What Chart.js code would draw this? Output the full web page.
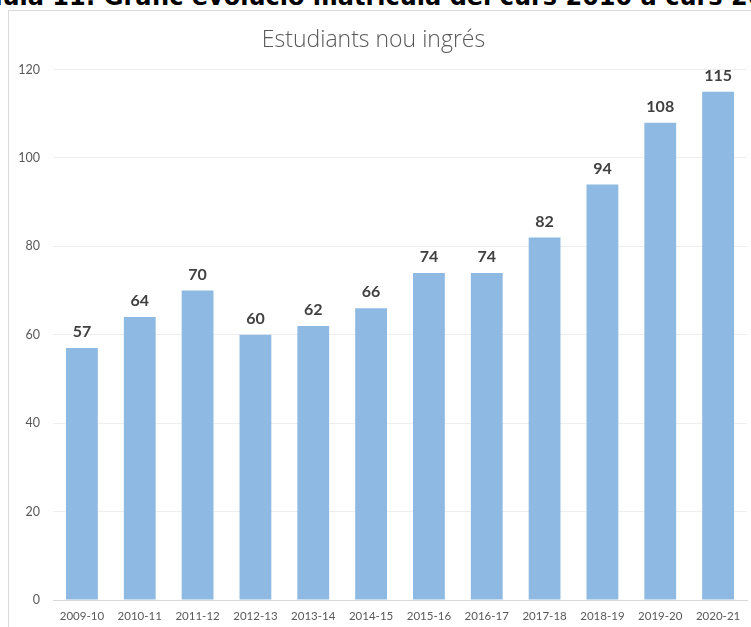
<!DOCTYPE html>
<html>
<head>
<meta charset="utf-8">
<script src="https://cdn.jsdelivr.net/npm/chart.js@4/dist/chart.umd.min.js"></script>
<style>
  html, body { margin: 0; padding: 0; background: #fff; overflow: hidden; }
  #wrap { position: relative; width: 751px; height: 627px; overflow: hidden; }
  #heading { position: absolute; left: -27px; top: -15px; white-space: nowrap;
    font-family: "DejaVu Sans", sans-serif; font-weight: bold; font-size: 24px; line-height: 24px; color: #000; }
  #frame { position: absolute; left: 8px; top: 10px; width: 760px; height: 640px;
    border-left: 1px solid #d9d9d9; border-top: 1px solid #d9d9d9; box-sizing: border-box; }
  #c { position: absolute; left: 0; top: 0; }
</style>
</head>
<body>
<div id="wrap">
  <div id="heading">Taula 11: Gràfic evolució matrícula del curs 2010 a curs 2021</div>
  <div id="frame"></div>
  <canvas id="c" width="751" height="627"></canvas>
</div>
<script>
const categories = ["2009-10","2010-11","2011-12","2012-13","2013-14","2014-15","2015-16","2016-17","2017-18","2018-19","2019-20","2020-21"];
const newStudents = [57, 64, 70, 60, 62, 66, 74, 74, 82, 94, 108, 115];
const yTicks = [0, 20, 40, 60, 80, 100, 120];
const chartTitle = "Estudiants nou ingrés";

const tickFont = 'Lato, "Open Sans", sans-serif';

const valueLabels = {
  id: 'valueLabels',
  afterDatasetsDraw(chart) {
    const ctx = chart.ctx;
    const meta = chart.getDatasetMeta(0);
    ctx.save();
    ctx.font = 'bold 16px Lato, "Open Sans", sans-serif';
    ctx.fillStyle = '#404040';
    ctx.textAlign = 'center';
    ctx.textBaseline = 'alphabetic';
    meta.data.forEach((bar, i) => {
      ctx.fillText(String(chart.data.datasets[0].data[i]), bar.x, bar.y - 11);
    });
    ctx.restore();
  }
};

new Chart(document.getElementById('c'), {
  type: 'bar',
  data: {
    labels: categories,
    datasets: [{
      data: newStudents,
      backgroundColor: '#8db9e2',
      borderWidth: 0,
      barPercentage: 0.55,
      categoryPercentage: 1.0
    }]
  },
  options: {
    responsive: false,
    animation: false,
    devicePixelRatio: 1,
    layout: { padding: { left: 0, right: 4, top: 0, bottom: 0 } },
    plugins: {
      legend: { display: false },
      tooltip: { enabled: false },
      title: {
        display: true,
        text: chartTitle,
        color: '#595959',
        font: { family: '"Open Sans", Lato, sans-serif', size: 23, weight: 300, lineHeight: 1.2 },
        padding: { top: 27, bottom: 15 }
      }
    },
    scales: {
      x: {
        grid: { display: false, drawTicks: false },
        border: { display: true, color: '#d9d9d9', width: 1 },
        ticks: { color: '#595959', font: { family: tickFont, size: 11.5 }, padding: 9, maxRotation: 0, autoSkip: false },
        afterFit(scale) { scale.height = 27; }
      },
      y: {
        min: 0, max: 120,
        afterBuildTicks(scale) { scale.ticks = yTicks.map(v => ({ value: v })); },
        grid: { color: '#eeeeee', drawTicks: false },
        border: { display: false },
        ticks: { color: '#595959', font: { family: tickFont, size: 12.5 }, padding: 13 },
        afterFit(scale) { scale.width = 53; }
      }
    }
  },
  plugins: [valueLabels]
});
</script>
</body>
</html>
